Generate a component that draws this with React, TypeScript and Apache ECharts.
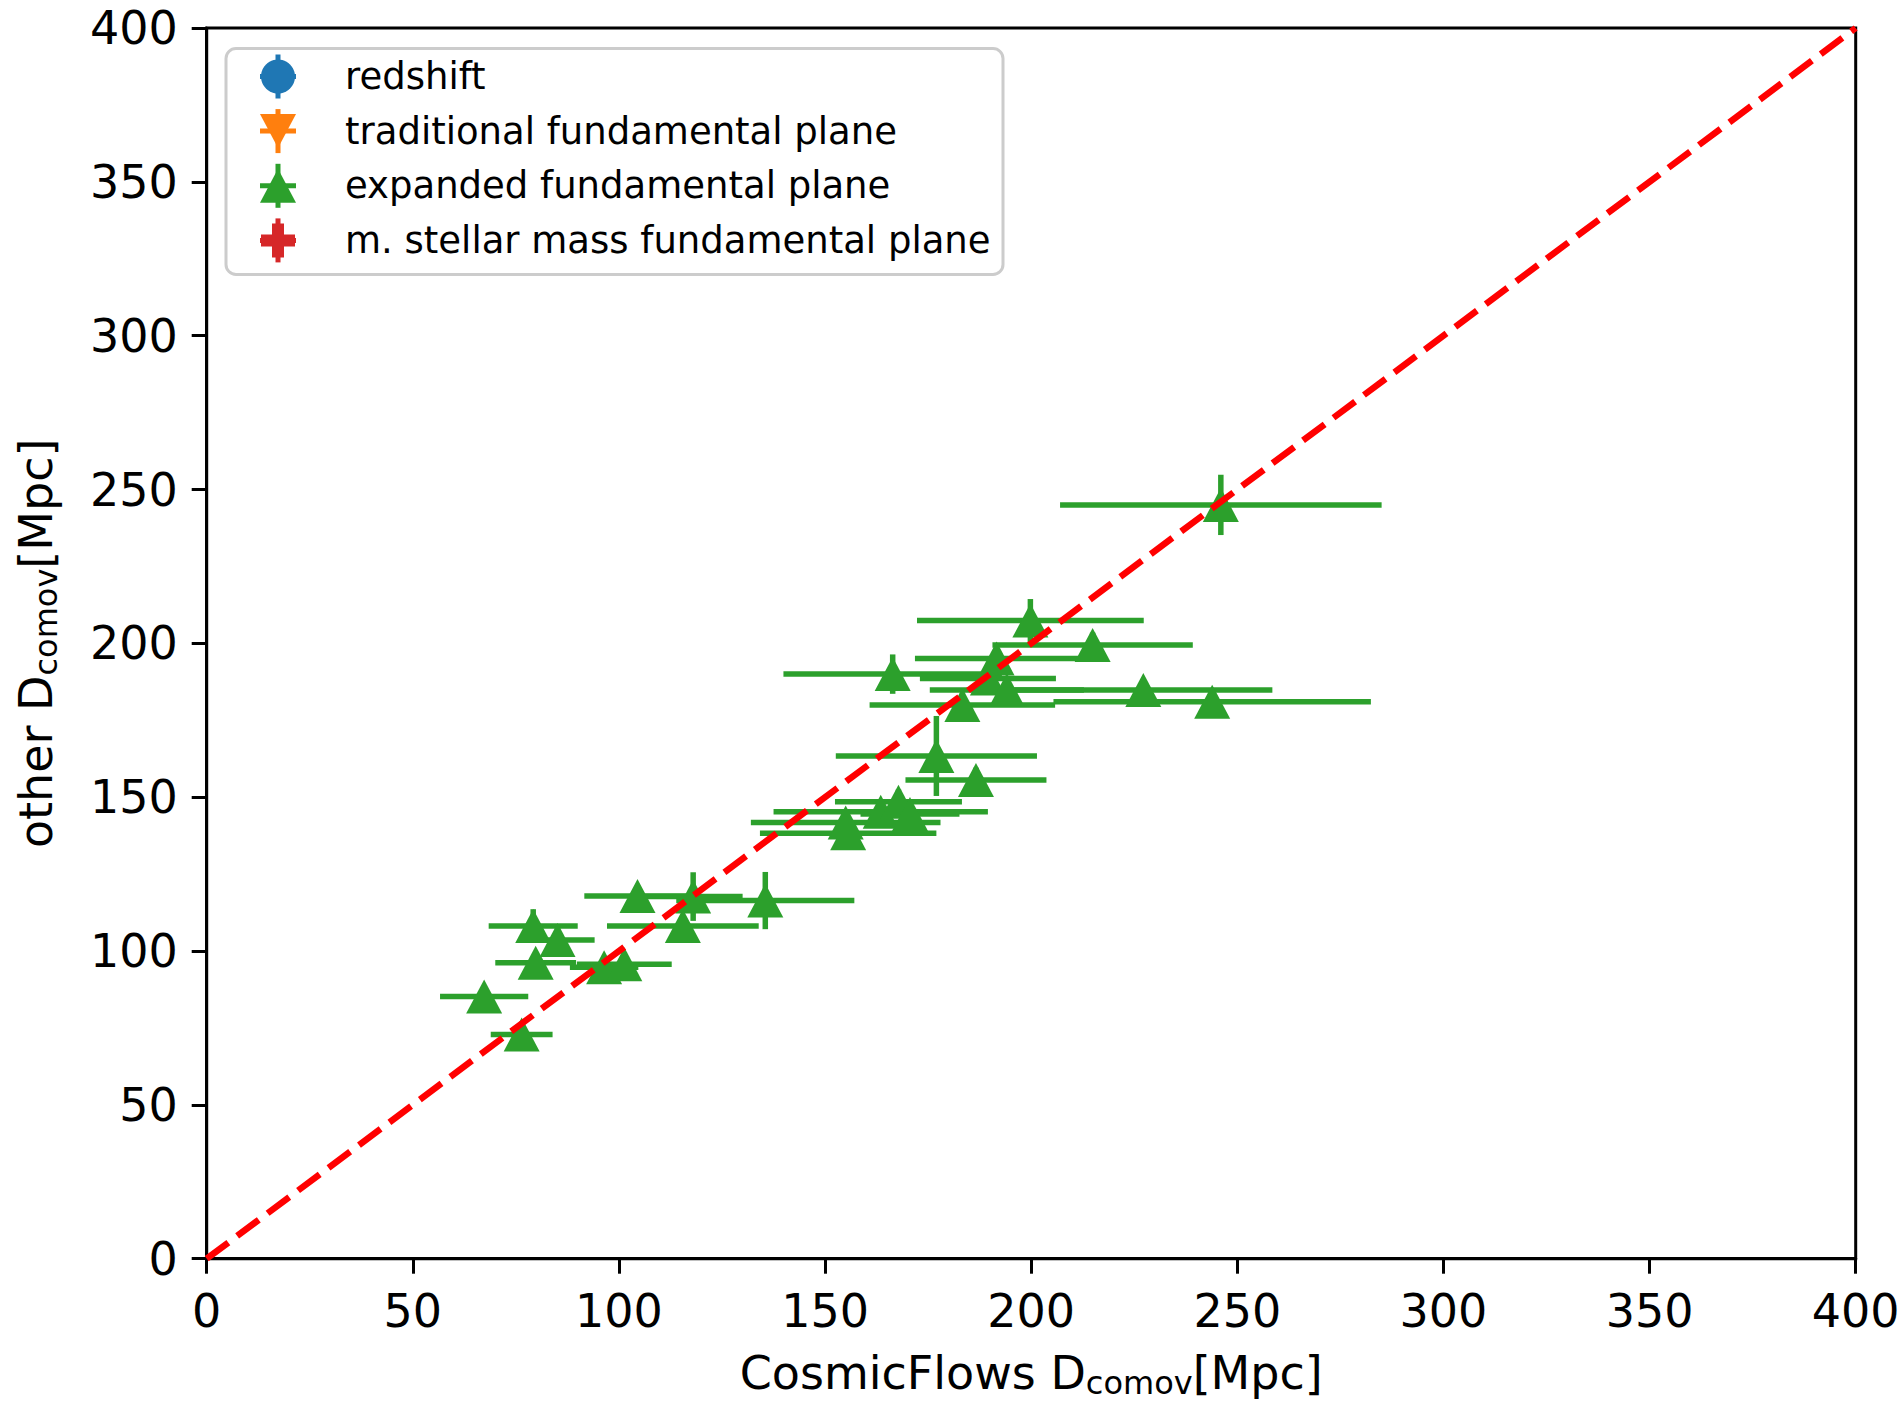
import React, { useEffect, useRef } from "react";
import * as echarts from "echarts";

// ---- data ----
const xTicks = [0, 50, 100, 150, 200, 250, 300, 350, 400];
const cfDist = [67.3, 76.4, 79.2, 79.8, 85.1, 96.4, 101.3, 104.5, 115.5, 118.0, 135.5, 155.6, 155.0, 163.5, 167.8, 170.6, 177.0, 186.6, 166.4, 183.3, 189.5, 191.6, 194.1, 199.8, 214.9, 227.2, 243.9, 246.0];
const otherDist = [85.2, 72.9, 108.1, 96.2, 103.6, 94.7, 95.7, 117.9, 108.1, 117.7, 116.4, 138.3, 141.8, 145.3, 148.5, 144.5, 163.4, 155.6, 190.0, 180.0, 188.6, 195.1, 184.8, 207.4, 199.5, 184.8, 181.0, 245.0];
const cfErr = [10.7, 7.5, 10.8, 9.8, 9.0, 8.3, 11.5, 12.9, 18.4, 12.0, 21.6, 21.4, 23.0, 26.0, 15.4, 12.0, 24.4, 17.1, 26.5, 22.5, 16.5, 19.8, 18.7, 27.5, 24.3, 31.3, 38.5, 39.0];
const otherErr = [3, 3, 5.5, 3, 4, 3, 4, 3, 3, 7.9, 9.3, 3, 3, 4, 4, 3, 13, 4, 6.4, 4, 3, 5, 3, 7, 4, 2, 4, 9.8];
const legendNames = ["redshift", "traditional fundamental plane", "expanded fundamental plane", "m. stellar mass fundamental plane"];
const legendColors = ["#1f77b4", "#ff7f0e", "#2ca02c", "#d62728"];
const oneToOne = [[0, 0], [400, 400]];

const FONT = "DejaVu Sans";
const GREEN = "#2ca02c";
const BAR_W = 5.5;

function legendGraphics() {
  const boxX = 226, boxY = 48.6, boxW = 777, boxH = 225.8;
  const iconX = 278, textX = 345;
  const rows = [76.5, 131.1, 185.8, 240.4];
  const children: any[] = [
    {
      type: "rect",
      shape: { x: boxX, y: boxY, width: boxW, height: boxH, r: 10 },
      style: { fill: "rgba(255,255,255,0.8)", stroke: "#cccccc", lineWidth: 3 },
    },
  ];
  rows.forEach((cy, i) => {
    const c = legendColors[i];
    children.push(
      { type: "line", shape: { x1: iconX - 18, y1: cy, x2: iconX + 18, y2: cy }, style: { stroke: c, lineWidth: 5 } },
      { type: "line", shape: { x1: iconX, y1: cy - 22, x2: iconX, y2: cy + 22 }, style: { stroke: c, lineWidth: 5 } }
    );
    if (i === 0) {
      children.push({ type: "circle", shape: { cx: iconX, cy, r: 17 }, style: { fill: c } });
    } else if (i === 1) {
      children.push({ type: "polygon", shape: { points: [[iconX - 18, cy - 17], [iconX + 18, cy - 17], [iconX, cy + 17]] }, style: { fill: c } });
    } else if (i === 2) {
      children.push({ type: "polygon", shape: { points: [[iconX, cy - 17], [iconX - 18, cy + 17], [iconX + 18, cy + 17]] }, style: { fill: c } });
    } else {
      const a = 6, h = 17;
      const pts = [[-a, -h], [a, -h], [a, -a], [h, -a], [h, a], [a, a], [a, h], [-a, h], [-a, a], [-h, a], [-h, -a], [-a, -a]].map(([px, py]) => [iconX + px, cy + py]);
      children.push({ type: "polygon", shape: { points: pts }, style: { fill: c } });
    }
    children.push({
      type: "text",
      style: { text: legendNames[i], x: textX, y: cy, fill: "#000", fontSize: 37, fontFamily: FONT, verticalAlign: "middle", align: "left" },
    });
  });
  return [{ type: "group", z: 100, children }];
}

export default function App() {
  const ref = useRef<HTMLDivElement>(null);
  useEffect(() => {
    if (!ref.current) return;
    const chart = echarts.init(ref.current, undefined, { renderer: "svg" });
    const errData = cfDist.map((x, i) => [x, otherDist[i], cfErr[i], otherErr[i]]);
    const ptData = cfDist.map((x, i) => [x, otherDist[i]]);
    const nameRich = {
      a: { fontSize: 46, fontFamily: FONT, color: "#000" },
      s: { fontSize: 32, fontFamily: FONT, color: "#000", padding: [20, 0, 0, 0] },
    };
    const axisCommon = {
      type: "value",
      min: 0,
      max: 400,
      interval: 50,
      splitLine: { show: false },
      axisLine: { show: true, onZero: false, lineStyle: { color: "#000", width: 3 } },
      axisTick: { show: true, inside: false, length: 15, lineStyle: { color: "#000", width: 3 } },
      axisLabel: { fontSize: 46, fontFamily: FONT, color: "#000", margin: 29 },
      nameLocation: "middle",
      nameTextStyle: { rich: nameRich },
    };
    chart.setOption({
      animation: false,
      backgroundColor: "#fff",
      grid: {
        left: 206.7, top: 28, right: 48.3, bottom: 143.3,
        containLabel: false, outerBoundsMode: "none",
        show: true, borderColor: "#000", borderWidth: 3, backgroundColor: "transparent",
      },
      xAxis: { ...axisCommon, name: "{a|CosmicFlows D}{s|comov}{a|[Mpc]}", nameGap: 88, axisLabel: { ...axisCommon.axisLabel, formatter: (v: number) => (xTicks.includes(v) ? String(v) : "") } },
      yAxis: { ...axisCommon, name: "{a|other D}{s|comov}{a|[Mpc]}", nameGap: 145 },
      graphic: legendGraphics(),
      series: [
        {
          type: "custom",
          z: 2,
          data: errData,
          encode: { x: 0, y: 1 },
          renderItem: (params: any, api: any) => {
            const x = api.value(0), y = api.value(1), ex = api.value(2), ey = api.value(3);
            const l = api.coord([x - ex, y]);
            const r = api.coord([x + ex, y]);
            const t = api.coord([x, y + ey]);
            const b = api.coord([x, y - ey]);
            return {
              type: "group",
              children: [
                { type: "line", shape: { x1: l[0], y1: l[1], x2: r[0], y2: r[1] }, style: { stroke: GREEN, lineWidth: BAR_W } },
                { type: "line", shape: { x1: t[0], y1: t[1], x2: b[0], y2: b[1] }, style: { stroke: GREEN, lineWidth: BAR_W } },
              ],
            };
          },
        },
        {
          type: "scatter",
          name: "expanded fundamental plane",
          z: 3,
          data: ptData,
          symbol: "triangle",
          symbolSize: [36, 34],
          itemStyle: { color: GREEN, opacity: 1 },
        },
        {
          type: "line",
          z: 4,
          data: oneToOne,
          showSymbol: false,
          symbol: "none",
          lineStyle: { color: "#ff0000", width: 6.5, type: [27, 11] },
        },
      ],
    });
    return () => chart.dispose();
  }, []);
  return <div ref={ref} style={{ position: "fixed", left: 0, top: 0, width: 1904, height: 1402, background: "#fff" }} />;
}
